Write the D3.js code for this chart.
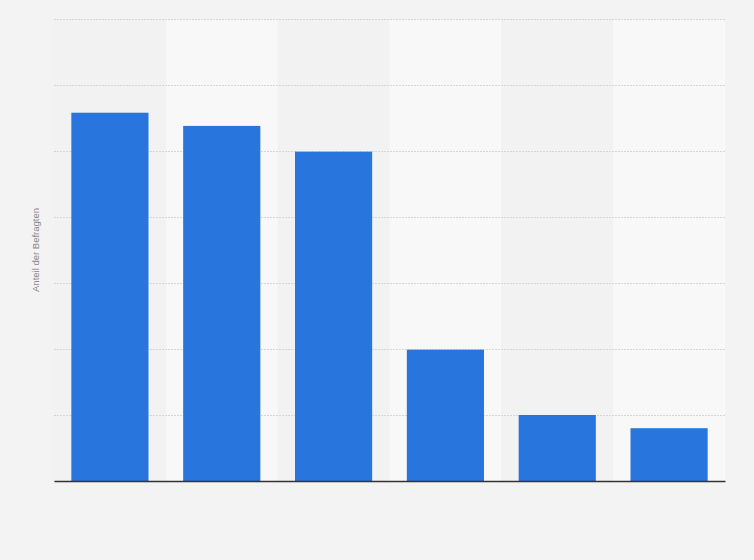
<!DOCTYPE html>
<html>
<head>
<meta charset="utf-8">
<script src="https://cdn.jsdelivr.net/npm/d3@7"></script>
<style>
  body { margin: 0; background: #f3f3f3; }
  svg { display: block; font-family: "Liberation Sans", Arial, sans-serif; }
</style>
</head>
<body>
<div class="chart"></div>
<script>
// categories (no labels are shown in the picture)
var categories = ["A", "B", "C", "D", "E", "F"];
// share of respondents
var values = [55.8, 53.8, 49.9, 19.9, 10, 8];
// gridline ticks
var yTicks = [0, 10, 20, 30, 40, 50, 60, 70];

var svgWidth = 754;
var svgHeight = 560;

var margin = { top: 19, right: 29, bottom: 79, left: 54 };
var chartWidth = svgWidth - margin.left - margin.right;
var chartHeight = svgHeight - margin.top - margin.bottom;

var svg = d3.select(".chart").append("svg")
    .attr("width", svgWidth)
    .attr("height", svgHeight);

svg.append("rect")
    .attr("width", svgWidth)
    .attr("height", svgHeight)
    .attr("fill", "#f3f3f3");

var chartGroup = svg.append("g")
    .attr("transform", `translate(${margin.left}, ${margin.top})`);

var xBand = d3.scaleBand()
    .domain(categories)
    .range([0, chartWidth]);

var xScale = d3.scaleBand()
    .domain(categories)
    .range([0, chartWidth])
    .paddingInner(0.31)
    .paddingOuter(0.155);

var yScale = d3.scaleLinear()
    .domain([0, 70])
    .range([chartHeight, 0]);

// alternating column bands
chartGroup.selectAll(".band")
    .data(categories)
    .enter()
    .append("rect")
    .attr("class", "band")
    .attr("x", d => xBand(d))
    .attr("y", 0)
    .attr("width", xBand.bandwidth())
    .attr("height", chartHeight)
    .attr("fill", (d, i) => i % 2 ? "#f8f8f8" : "#f2f2f2");

// dotted gridlines
var grid = chartGroup.append("g")
    .call(d3.axisLeft(yScale).tickValues(yTicks).tickSize(-chartWidth).tickFormat(""));
grid.select(".domain").remove();
grid.selectAll("line")
    .attr("stroke", "#d6d6d6")
    .attr("stroke-dasharray", "2,1");

// bars
chartGroup.selectAll(".bar")
    .data(values)
    .enter()
    .append("rect")
    .attr("class", "bar")
    .attr("x", (d, i) => xScale(categories[i]))
    .attr("y", d => yScale(d))
    .attr("width", xScale.bandwidth())
    .attr("height", d => chartHeight - yScale(d))
    .attr("fill", "#2876dd");

// baseline
var xAxis = chartGroup.append("g")
    .attr("transform", `translate(0, ${chartHeight})`)
    .call(d3.axisBottom(xBand).tickSize(0).tickFormat(""));
xAxis.select(".domain")
    .attr("stroke", "#333")
    .attr("stroke-width", 1.5);

// y axis title
chartGroup.append("text")
    .attr("transform", "rotate(-90)")
    .attr("x", -231)
    .attr("y", -15)
    .attr("text-anchor", "middle")
    .attr("font-size", "9.5px")
    .attr("fill", "#888")
    .text("Anteil der Befragten");
</script>
</body>
</html>
